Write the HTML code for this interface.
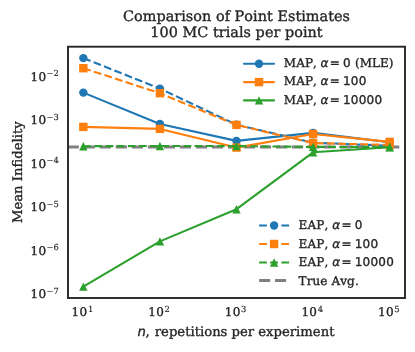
<!DOCTYPE html>
<html><head><meta charset="utf-8"><title>Comparison of Point Estimates</title><style>html,body{margin:0;padding:0;background:#fff;overflow:hidden}svg{display:block}</style></head><body>
<svg width="415" height="352" viewBox="0 0 415 352">
<style>text{font-family:'DejaVu Serif', 'Liberation Serif', serif;fill:#262626;stroke:#262626;stroke-width:0.35px;stroke-linejoin:round;font-kerning:none;text-rendering:geometricPrecision}.sup{stroke-width:0.15px}.m{font-family:'DejaVu Sans', 'Liberation Sans', sans-serif}.i{font-family:'DejaVu Sans', 'Liberation Sans', sans-serif;font-style:oblique}</style>
<rect width="415" height="352" fill="#fff"/>
<clipPath id="ax"><rect x="68" y="46.7" width="337" height="251.3"/></clipPath>
<g clip-path="url(#ax)">
<line x1="67.7" y1="147" x2="405" y2="147" stroke="#808080" stroke-width="3" stroke-dasharray="11.18 4.84"/>
<polyline points="83.32,92.6 159.91,124 236.5,140.9 313.09,132.9 389.68,142.3" fill="none" stroke="#1f77b4" stroke-width="2.1" stroke-linecap="round" stroke-linejoin="round"/><circle cx="83.32" cy="92.6" r="4.2" fill="#1f77b4"/><circle cx="159.91" cy="124" r="4.2" fill="#1f77b4"/><circle cx="236.5" cy="140.9" r="4.2" fill="#1f77b4"/><circle cx="313.09" cy="132.9" r="4.2" fill="#1f77b4"/><circle cx="389.68" cy="142.3" r="4.2" fill="#1f77b4"/>
<polyline points="83.32,58.1 159.91,88.6 236.5,124.7 313.09,142.7 389.68,145.8" fill="none" stroke="#1f77b4" stroke-width="2.1" stroke-dasharray="7.77 3.36" stroke-linejoin="round"/><circle cx="83.32" cy="58.1" r="4.2" fill="#1f77b4"/><circle cx="159.91" cy="88.6" r="4.2" fill="#1f77b4"/><circle cx="236.5" cy="124.7" r="4.2" fill="#1f77b4"/><circle cx="313.09" cy="142.7" r="4.2" fill="#1f77b4"/><circle cx="389.68" cy="145.8" r="4.2" fill="#1f77b4"/>
<polyline points="83.32,126.9 159.91,128.9 236.5,147.6 313.09,134 389.68,141.9" fill="none" stroke="#ff7f0e" stroke-width="2.1" stroke-linecap="round" stroke-linejoin="round"/><rect x="79.12" y="122.7" width="8.4" height="8.4" fill="#ff7f0e"/><rect x="155.71" y="124.7" width="8.4" height="8.4" fill="#ff7f0e"/><rect x="232.3" y="143.4" width="8.4" height="8.4" fill="#ff7f0e"/><rect x="308.89" y="129.8" width="8.4" height="8.4" fill="#ff7f0e"/><rect x="385.48" y="137.7" width="8.4" height="8.4" fill="#ff7f0e"/>
<polyline points="83.32,68.2 159.91,93.2 236.5,124.9 313.09,143.1 389.68,144.9" fill="none" stroke="#ff7f0e" stroke-width="2.1" stroke-dasharray="7.77 3.36" stroke-linejoin="round"/><rect x="79.12" y="64" width="8.4" height="8.4" fill="#ff7f0e"/><rect x="155.71" y="89" width="8.4" height="8.4" fill="#ff7f0e"/><rect x="232.3" y="120.7" width="8.4" height="8.4" fill="#ff7f0e"/><rect x="308.89" y="138.9" width="8.4" height="8.4" fill="#ff7f0e"/><rect x="385.48" y="140.7" width="8.4" height="8.4" fill="#ff7f0e"/>
<polyline points="83.32,286.6 159.91,241.4 236.5,209.2 313.09,152.3 389.68,147.2" fill="none" stroke="#2ca02c" stroke-width="2.1" stroke-linecap="round" stroke-linejoin="round"/><polygon points="83.32,282.4 79.12,290.8 87.52,290.8" fill="#2ca02c"/><polygon points="159.91,237.2 155.71,245.6 164.11,245.6" fill="#2ca02c"/><polygon points="236.5,205 232.3,213.4 240.7,213.4" fill="#2ca02c"/><polygon points="313.09,148.1 308.89,156.5 317.29,156.5" fill="#2ca02c"/><polygon points="389.68,143 385.48,151.4 393.88,151.4" fill="#2ca02c"/>
<polyline points="83.32,146.2 159.91,146 236.5,146.1 313.09,146.9 389.68,147" fill="none" stroke="#2ca02c" stroke-width="2.1" stroke-dasharray="7.77 3.36" stroke-linejoin="round"/><polygon points="83.32,142 79.12,150.4 87.52,150.4" fill="#2ca02c"/><polygon points="159.91,141.8 155.71,150.2 164.11,150.2" fill="#2ca02c"/><polygon points="236.5,141.9 232.3,150.3 240.7,150.3" fill="#2ca02c"/><polygon points="313.09,142.7 308.89,151.1 317.29,151.1" fill="#2ca02c"/><polygon points="389.68,142.8 385.48,151.2 393.88,151.2" fill="#2ca02c"/>
</g>
<rect x="68" y="46.7" width="337" height="251.3" fill="none" stroke="#262626" stroke-width="1.9"/>
<text y="21.15" font-size="14.4" x="236.5" text-anchor="middle" letter-spacing="0.04">Comparison of Point Estimates</text>
<text y="37.15" font-size="14.4" x="236.5" text-anchor="middle" letter-spacing="0.04">100 MC trials per point</text>
<text y="335.5" font-size="13.2" x="137.6"><tspan class="i">n</tspan><tspan x="145.6">,</tspan> <tspan x="154.8">repetitions per experiment</tspan></text>
<text transform="translate(21.6 172.2) rotate(-90)" font-size="13.2" text-anchor="middle">Mean Infidelity</text>
<text y="316.4" font-size="12" x="71.62" letter-spacing="0.3">10<tspan class="sup" x="87.92" dy="-4.3" font-size="8.4">1</tspan></text>
<text y="316.4" font-size="12" x="148.21" letter-spacing="0.3">10<tspan class="sup" x="164.51" dy="-4.3" font-size="8.4">2</tspan></text>
<text y="316.4" font-size="12" x="224.8" letter-spacing="0.3">10<tspan class="sup" x="241.1" dy="-4.3" font-size="8.4">3</tspan></text>
<text y="316.4" font-size="12" x="301.39" letter-spacing="0.3">10<tspan class="sup" x="317.69" dy="-4.3" font-size="8.4">4</tspan></text>
<text y="316.4" font-size="12" x="377.98" letter-spacing="0.3">10<tspan class="sup" x="394.28" dy="-4.3" font-size="8.4">5</tspan></text>
<text y="80.6" font-size="12" x="30.6" letter-spacing="0.3">10<tspan class="sup" x="46.6" dy="-4.3" font-size="8.4" letter-spacing="0">−2</tspan></text>
<text y="124.09" font-size="12" x="30.6" letter-spacing="0.3">10<tspan class="sup" x="46.6" dy="-4.3" font-size="8.4" letter-spacing="0">−3</tspan></text>
<text y="167.58" font-size="12" x="30.6" letter-spacing="0.3">10<tspan class="sup" x="46.6" dy="-4.3" font-size="8.4" letter-spacing="0">−4</tspan></text>
<text y="211.07" font-size="12" x="30.6" letter-spacing="0.3">10<tspan class="sup" x="46.6" dy="-4.3" font-size="8.4" letter-spacing="0">−5</tspan></text>
<text y="254.56" font-size="12" x="30.6" letter-spacing="0.3">10<tspan class="sup" x="46.6" dy="-4.3" font-size="8.4" letter-spacing="0">−6</tspan></text>
<text y="298.05" font-size="12" x="30.6" letter-spacing="0.3">10<tspan class="sup" x="46.6" dy="-4.3" font-size="8.4" letter-spacing="0">−7</tspan></text>
<line x1="244" y1="63.7" x2="274" y2="63.7" stroke="#1f77b4" stroke-width="2.1" stroke-linecap="round"/><circle cx="259" cy="63.7" r="4.2" fill="#1f77b4"/>
<text y="66.8" font-size="12"><tspan x="283.8" letter-spacing="0.1">MAP,</tspan> <tspan class="i" x="320.5">α</tspan> <tspan class="m" x="329.7">=</tspan> <tspan class="m" x="342.9" letter-spacing="0.25">0</tspan> <tspan x="355">(MLE)</tspan></text>
<line x1="244" y1="82.1" x2="274" y2="82.1" stroke="#ff7f0e" stroke-width="2.1" stroke-linecap="round"/><rect x="254.8" y="77.9" width="8.4" height="8.4" fill="#ff7f0e"/>
<text y="85.2" font-size="12"><tspan x="283.8" letter-spacing="0.1">MAP,</tspan> <tspan class="i" x="320.5">α</tspan> <tspan class="m" x="329.7">=</tspan> <tspan class="m" x="342.9" letter-spacing="0.25">100</tspan></text>
<line x1="244" y1="100.4" x2="274" y2="100.4" stroke="#2ca02c" stroke-width="2.1" stroke-linecap="round"/><polygon points="259,96.2 254.8,104.6 263.2,104.6" fill="#2ca02c"/>
<text y="103.5" font-size="12"><tspan x="283.8" letter-spacing="0.1">MAP,</tspan> <tspan class="i" x="320.5">α</tspan> <tspan class="m" x="329.7">=</tspan> <tspan class="m" x="342.9" letter-spacing="0.25">10000</tspan></text>
<line x1="259.1" y1="225.5" x2="289.1" y2="225.5" stroke="#1f77b4" stroke-width="2.1" stroke-dasharray="7.77 3.36"/><circle cx="274.1" cy="225.5" r="4.2" fill="#1f77b4"/>
<text y="229.4" font-size="12"><tspan x="298.6" letter-spacing="0.1">EAP,</tspan> <tspan class="i" x="332.3">α</tspan> <tspan class="m" x="341.5">=</tspan> <tspan class="m" x="354.7" letter-spacing="0.25">0</tspan></text>
<line x1="259.1" y1="244" x2="289.1" y2="244" stroke="#ff7f0e" stroke-width="2.1" stroke-dasharray="7.77 3.36"/><rect x="269.9" y="239.8" width="8.4" height="8.4" fill="#ff7f0e"/>
<text y="247.9" font-size="12"><tspan x="298.6" letter-spacing="0.1">EAP,</tspan> <tspan class="i" x="332.3">α</tspan> <tspan class="m" x="341.5">=</tspan> <tspan class="m" x="354.7" letter-spacing="0.25">100</tspan></text>
<line x1="259.1" y1="262.5" x2="289.1" y2="262.5" stroke="#2ca02c" stroke-width="2.1" stroke-dasharray="7.77 3.36"/><polygon points="274.1,258.3 269.9,266.7 278.3,266.7" fill="#2ca02c"/>
<text y="266.4" font-size="12"><tspan x="298.6" letter-spacing="0.1">EAP,</tspan> <tspan class="i" x="332.3">α</tspan> <tspan class="m" x="341.5">=</tspan> <tspan class="m" x="354.7" letter-spacing="0.25">10000</tspan></text>
<line x1="259.1" y1="280.5" x2="289.1" y2="280.5" stroke="#808080" stroke-width="3" stroke-dasharray="11.1 4.8"/>
<text y="284.8" font-size="12" x="298.6" letter-spacing="0.1">True Avg.</text>
</svg>
</body></html>
